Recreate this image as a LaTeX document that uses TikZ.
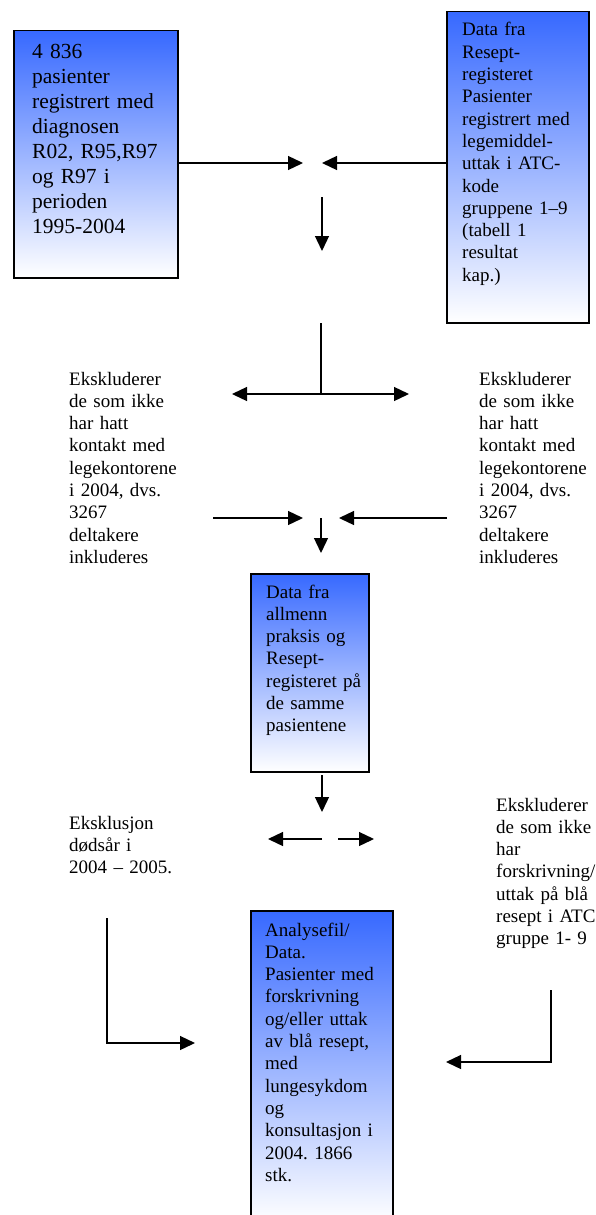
\documentclass[tikz,border=0pt]{standalone}
\usepackage{fontspec}
\setmainfont{Liberation Serif}
\usetikzlibrary{arrows.meta}
\definecolor{blatopp}{RGB}{55,105,255}
\frenchspacing

\begin{document}
\begin{tikzpicture}[
	x=1pt, y=-1pt,
	boks/.style={draw=black, line width=1.5pt, top color=blatopp,
		bottom color=white, inner sep=0pt, anchor=north west},
	tekst/.style={inner sep=0pt, anchor=base west, align=left,
		text width=130pt, font=\fontsize{19}{22.3}\selectfont},
	tekststor/.style={tekst, text width=150pt,
		font=\fontsize{21.5}{25}\selectfont},
	pil/.style={line width=1.3pt, -{Triangle[length=15pt,width=14pt]}},
	linje/.style={line width=1.3pt},
	]
	\useasboundingbox (0,0) rectangle (595,1215);
	
	%% bokser
	\node[boks, minimum width=164pt, minimum height=247pt] (pasienter) at (13,30) {};
	\node[boks, minimum width=142pt, minimum height=311pt] (resept) at (446,11) {};
	\node[boks, minimum width=118pt, minimum height=198pt] (praksis) at (250,573) {};
	\node[boks, minimum width=142pt, minimum height=312pt] (analysefil) at (250,910) {};
	
	% tekst i boksene
	\node[tekststor] (pasienter-t) at (32,59) {4 836\\pasienter\\registrert med\\diagnosen\\R02, R95,R97\\og R97 i\\perioden\\1995-2004};
	\node[tekst] (resept-t) at (462,36) {Data fra\\Resept-\\registeret\\Pasienter\\registrert med\\legemiddel-\\uttak i ATC-\\kode\\gruppene 1–9\\(tabell 1\\resultat\\kap.)};
	\node[tekst] (praksis-t) at (266,598) {Data fra\\allmenn\\praksis og\\Resept-\\registeret på\\de samme\\pasientene};
	\node[tekst] (analysefil-t) at (265,936) {Analysefil/\\Data.\\Pasienter med\\forskrivning\\og/eller uttak\\av blå resept,\\med\\lungesykdom\\og\\konsultasjon i\\2004. 1866\\stk.};
	
	% frie tekster
	\node[tekst] (ekskl-v) at (69,385) {Ekskluderer\\de som ikke\\har hatt\\kontakt med\\legekontorene\\i 2004, dvs.\\3267\\deltakere\\inkluderes};
	\node[tekst] (ekskl-h) at (479,385) {Ekskluderer\\de som ikke\\har hatt\\kontakt med\\legekontorene\\i 2004, dvs.\\3267\\deltakere\\inkluderes};
	\node[tekst] (dodsar) at (69,829) {Eksklusjon\\dødsår i\\2004 – 2005.};
	\node[tekst, text width=160pt] (forskr) at (496,811) {Ekskluderer\\de som ikke\\har\\forskrivning/\\uttak på blå\\resept i ATC\\gruppe 1- 9};
	
	%% piler, rad 1
	\coordinate (m1) at (303,163);
	\coordinate (m2) at (322,163);
	\coordinate (n1) at (322,197);
	\coordinate (n2) at (322,251);
	\draw[pil] (pasienter.east |- m1) -- (m1);
	\draw[pil] (resept.west |- m2) -- (m2);
	\draw[pil] (n1) -- (n2);
	
	% forgrening
	\coordinate (t1) at (321,323);
	\coordinate (t2) at (321,394);
	\coordinate (tv) at (232,394);
	\coordinate (th) at (409,394);
	\draw[linje] (t1) -- (t2);
	\draw[pil] (t2) -- (tv);
	\draw[pil] (t2) -- (th);
	
	% inn mot midten
	\coordinate (s1) at (213,518);
	\coordinate (s2) at (303,518);
	\coordinate (s3) at (447,518);
	\coordinate (s4) at (339,518);
	\coordinate (s5) at (321,518);
	\coordinate (s6) at (321,553);
	\draw[pil] (s1) -- (s2);
	\draw[pil] (s3) -- (s4);
	\draw[pil] (s5) -- (s6);
	
	% under praksis-boksen
	\coordinate (u1) at (322,775);
	\coordinate (u2) at (322,812);
	\coordinate (u3) at (322,839);
	\coordinate (u4) at (268,839);
	\coordinate (u5) at (338,839);
	\coordinate (u6) at (374,839);
	\draw[pil] (u1) -- (u2);
	\draw[pil] (u3) -- (u4);
	\draw[pil] (u5) -- (u6);
	
	% vinkelpiler mot analysefil
	\coordinate (v1) at (107,918);
	\coordinate (v2) at (195,1043);
	\coordinate (h1) at (551,990);
	\coordinate (h2) at (446,1062);
	\draw[pil] (v1) |- (v2);
	\draw[pil] (h1) |- (h2);
	
\end{tikzpicture}
\end{document}
